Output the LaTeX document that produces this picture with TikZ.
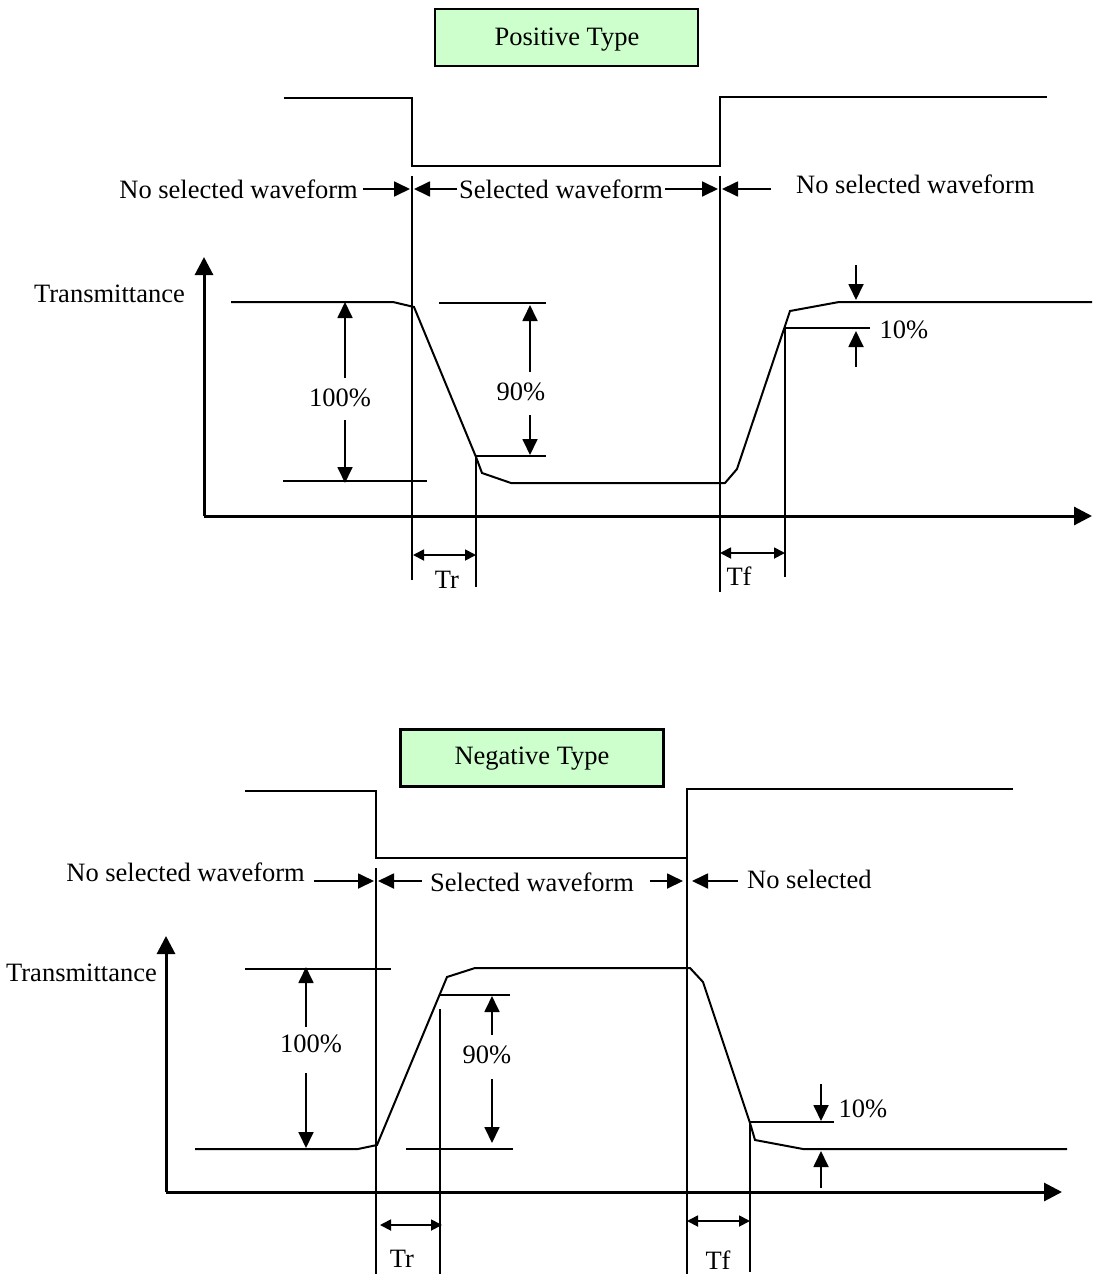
\documentclass[tikz,border=0pt]{standalone}
\usepackage{fontspec}
\setmainfont{Liberation Serif}
\usetikzlibrary{arrows.meta}
\definecolor{boxgreen}{HTML}{CCFFCC}
\begin{document}
\begin{tikzpicture}[x=1pt,y=-1pt,
  txt/.style={inner sep=0pt,font=\fontsize{26.5}{30}\selectfont},
  typebox/.style={draw,line width=2.5pt,fill=boxgreen,minimum width=263pt,minimum height=57pt,inner sep=0pt},
  sig/.style={line width=2pt},
  guide/.style={line width=1.6pt},
  axisarr/.style={line width=3pt,-{Triangle[length=18pt,width=18pt]}},
  arr/.style={line width=1.8pt,-{Triangle[length=16pt,width=15pt]}},
  dimarr/.style={line width=1.8pt,{Triangle[length=11pt,width=11pt]}-{Triangle[length=11pt,width=11pt]}}
]
\useasboundingbox (0,0) rectangle (1094,1274);

% ================= Positive type =================
\node[typebox] (ptitle) at (566.5,37.5) {};
\node[txt] (ptitletxt) at (567,40) {Positive Type};
\draw[sig] (284,98) -- (412,98) -- (412,166) -- (720,166) -- (720,97) -- (1047,97);
\coordinate (pA1) at (412,176); \coordinate (pA2) at (412,580);
\coordinate (pB1) at (720,176); \coordinate (pB2) at (720,592);
\draw[guide] (pA1) -- (pA2);
\draw[guide] (pB1) -- (pB2);

\node[txt,anchor=east] (pl1) at (358,189) {No selected waveform};
\node[txt,anchor=west] (pl2) at (459,189) {Selected waveform};
\node[txt,anchor=west] (pl3) at (796,184) {No selected waveform};
\draw[arr] (363,189) -- (410,189);
\draw[arr] (457,189) -- (414,189);
\draw[arr] (665,189) -- (718,189);
\draw[arr] (771,189) -- (722,189);

\coordinate (porig) at (204,516);
\draw[axisarr] (porig) -- (204,257);
\draw[axisarr] (porig) -- (1092,516);
\node[txt,anchor=east] (ptrans) at (185,294) {Transmittance};

\draw[sig] (231,302) -- (393,302) -- (414,307) -- (476,457) -- (482,473) -- (511,483)
  -- (725,483) -- (737,469) -- (790,311) -- (839,302) -- (1092,302);

% 100%
\draw[guide] (283,481) -- (427,481);
\node[txt] (p100) at (340,398) {100\%};
\draw[arr] (345,378) -- (345,302);
\draw[arr] (345,420) -- (345,483);
% 90%
\draw[guide] (439,303) -- (546,303);
\draw[guide] (476,456) -- (546,456);
\node[txt] (p90) at (521,392) {90\%};
\draw[arr] (530,372) -- (530,305);
\draw[arr] (530,415) -- (530,455);
\draw[guide] (476,456) -- (476,587);
% Tr
\draw[dimarr] (413,555) -- (476,555);
\node[txt] (ptr) at (447,580) {Tr};
% 10%
\draw[guide] (784,328) -- (870,328);
\draw[guide] (785,328) -- (785,577);
\draw[arr] (856,265) -- (856,300);
\draw[arr] (856,367) -- (856,331);
\node[txt] (p10) at (904,330) {10\%};
% Tf
\draw[dimarr] (720,553) -- (785,553);
\node[txt] (ptf) at (739,576) {Tf};

% ================= Negative type =================
\node[typebox] (ntitle) at (532,758) {};
\node[txt] (ntitletxt) at (532,759) {Negative Type};
\draw[sig] (245,791) -- (376,791) -- (376,858) -- (687,858) -- (687,789) -- (1013,789);
\coordinate (nA1) at (376,868); \coordinate (nA2) at (376,1274);
\coordinate (nB1) at (687,858); \coordinate (nB2) at (687,1274);
\draw[guide] (nA1) -- (nA2);
\draw[guide] (nB1) -- (nB2);

\node[txt,anchor=east] (nl1) at (305,872) {No selected waveform};
\node[txt,anchor=west] (nl2) at (430,882) {Selected waveform};
\node[txt,anchor=west] (nl3) at (747,879) {No selected};
\draw[arr] (314,881) -- (374,881);
\draw[arr] (422,881) -- (378,881);
\draw[arr] (650,881) -- (683,881);
\draw[arr] (738,881) -- (692,881);

\coordinate (norig) at (166,1192);
\draw[axisarr] (norig) -- (166,936);
\draw[axisarr] (norig) -- (1062,1192);
\node[txt,anchor=east] (ntrans) at (157,973) {Transmittance};

\draw[sig] (195,1149) -- (358,1149) -- (377,1145) -- (447,977) -- (475,968) -- (690,968)
  -- (703,982) -- (750,1123) -- (755,1140) -- (803,1149) -- (1067,1149);

% 100%
\draw[guide] (245,969) -- (391,969);
\node[txt] (n100) at (311,1044) {100\%};
\draw[arr] (306,1027) -- (306,967);
\draw[arr] (306,1073) -- (306,1148);
% 90%
\draw[guide] (440,995) -- (510,995);
\draw[guide] (406,1149) -- (513,1149);
\node[txt] (n90) at (487,1055) {90\%};
\draw[arr] (492,1035) -- (492,996);
\draw[arr] (492,1079) -- (492,1143);
\draw[guide] (440,1009) -- (440,1274);
% Tr
\draw[dimarr] (380,1225) -- (442,1225);
\node[txt] (ntr) at (402,1259) {Tr};
% 10%
\draw[guide] (750,1122) -- (834,1122);
\draw[guide] (750,1122) -- (750,1272);
\draw[arr] (821,1084) -- (821,1121);
\draw[arr] (821,1188) -- (821,1151);
\node[txt] (n10) at (863,1109) {10\%};
% Tf
\draw[dimarr] (687,1221) -- (750,1221);
\node[txt] (ntf) at (718,1260) {Tf};
\end{tikzpicture}
\end{document}
